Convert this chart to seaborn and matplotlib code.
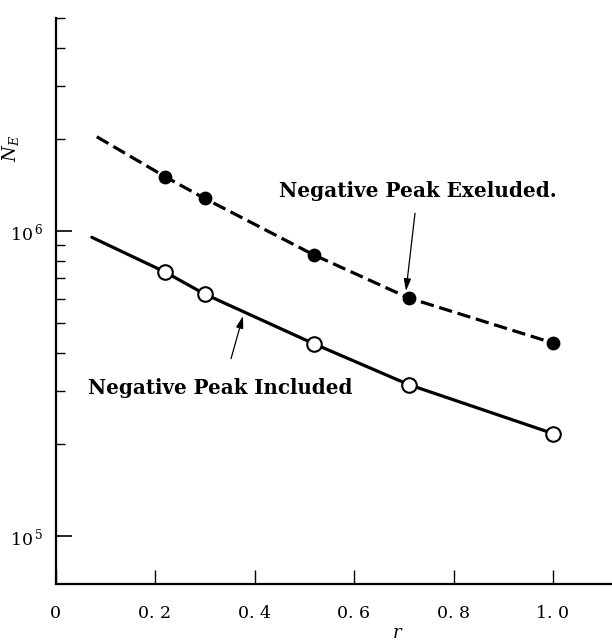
import matplotlib
matplotlib.use("Agg")
import matplotlib.pyplot as plt
import matplotlib.ticker as mticker
import seaborn as sns

# Fatigue-life data: number of cycles N_E versus ratio gamma
gamma = [0.22, 0.30, 0.52, 0.71, 1.0]
ne_excluded = [1.51e6, 1.28e6, 8.35e5, 6.04e5, 4.30e5]
ne_included = [7.35e5, 6.22e5, 4.27e5, 3.14e5, 2.17e5]

# Left end of the fitted curves
fit_start_gamma_excl = 0.083
fit_start_ne_excl = 2.04e6
fit_start_gamma_incl = 0.073
fit_start_ne_incl = 9.55e5

xtick_values = [0, 0.2, 0.4, 0.6, 0.8, 1.0]
xtick_labels = ["0", "0. 2", "0. 4", "0. 6", "0. 8", "1. 0"]
ytick_values = [1e5, 1e6]
ytick_labels = ["10$^{\\,5}$", "10$^{\\,6}$"]
yminor_values = [2e5, 3e5, 4e5, 5e5, 6e5, 7e5, 8e5, 9e5, 2e6, 3e6, 4e6, 5e6]

sns.set_theme(style="ticks")
plt.rcParams["font.family"] = ["DejaVu Serif"]
plt.rcParams["mathtext.fontset"] = "dejavuserif"
plt.rcParams["text.color"] = "black"
plt.rcParams["axes.labelcolor"] = "black"
plt.rcParams["xtick.color"] = "black"
plt.rcParams["ytick.color"] = "black"

fig = plt.figure(figsize=(6.12, 6.42), dpi=100)
ax = fig.add_axes([55.5 / 612, 1 - 584 / 642, 1 - 55.5 / 612, (584 - 18) / 642])

# fitted curves
sns.lineplot(x=[fit_start_gamma_excl] + gamma, y=[fit_start_ne_excl] + ne_excluded,
             ax=ax, color="black", linewidth=2.3, linestyle=(0, (4.2, 1.8)),
             errorbar=None, sort=True)
sns.lineplot(x=[fit_start_gamma_incl] + gamma, y=[fit_start_ne_incl] + ne_included,
             ax=ax, color="black", linewidth=2.3, errorbar=None, sort=True)

# measured points
sns.scatterplot(x=gamma, y=ne_excluded, ax=ax, color="black", edgecolor="black",
                s=80, linewidth=1.0, zorder=4)
sns.scatterplot(x=gamma, y=ne_included, ax=ax, color="white", edgecolor="black",
                s=110, linewidth=1.5, zorder=4)

ax.set_yscale("log")
ax.set_xlim(0, (612 - 55.5) / 497.5)
ax.set_ylim(6.97e4, 5.0e6)

ax.yaxis.set_major_locator(mticker.FixedLocator(ytick_values))
ax.yaxis.set_major_formatter(mticker.FixedFormatter(ytick_labels))
ax.yaxis.set_minor_locator(mticker.FixedLocator(yminor_values))
ax.yaxis.set_minor_formatter(mticker.NullFormatter())
ax.set_xticks(xtick_values)
ax.set_xticklabels(xtick_labels)

for s in ("top", "right"):
    ax.spines[s].set_visible(False)
for s in ("left", "bottom"):
    ax.spines[s].set_linewidth(1.6)
    ax.spines[s].set_color("black")

ax.tick_params(axis="both", which="both", direction="in", colors="black")
ax.tick_params(axis="y", which="major", length=11.5, width=1.2, labelsize=12.5, pad=9)
ax.tick_params(axis="y", which="minor", length=6.5, width=1.0)
ax.tick_params(axis="x", which="major", length=10, width=1.0, labelsize=12.5, pad=15)

ax.set_xlabel("$r$", fontsize=13, labelpad=0, va="center")
ax.xaxis.set_label_coords(0.615, -0.086)
ax.set_ylabel("$N_E$", fontsize=13, rotation=90)
ax.yaxis.set_label_coords(-0.062, 0.77)

arrow = dict(arrowstyle="-|>,head_length=0.6,head_width=0.18", color="black",
             lw=0.9, shrinkA=0, shrinkB=0)
ax.text(0.7286, 1.351e6, "Negative Peak Exeluded.", ha="center", va="center",
        fontsize=14.4, fontweight="bold")
ax.annotate("", xy=(0.7045, 6.37e5), xytext=(0.7226, 1.145e6), arrowprops=arrow)
ax.text(0.3317, 3.05e5, "Negative Peak Included", ha="center", va="center",
        fontsize=14.3, fontweight="bold")
ax.annotate("", xy=(0.3769, 5.27e5), xytext=(0.3528, 3.82e5), arrowprops=arrow)

fig.savefig("out.png", dpi=100)
